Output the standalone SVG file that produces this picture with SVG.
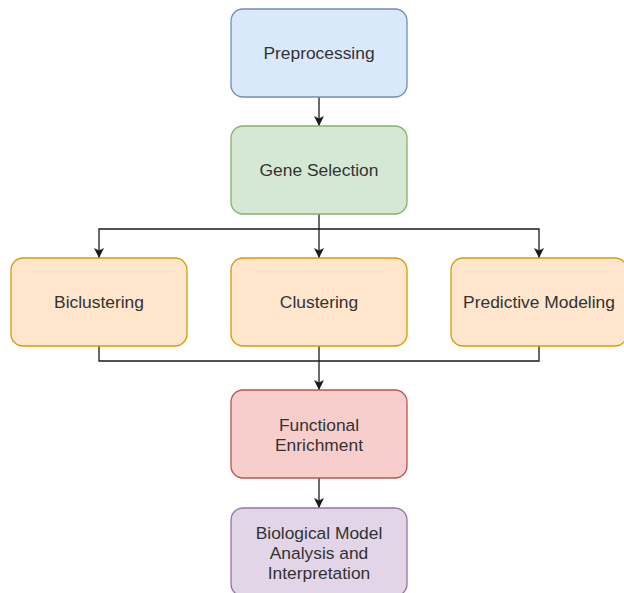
<svg xmlns="http://www.w3.org/2000/svg" width="624" height="593" viewBox="0 0 624 593">
<style>
.box{stroke-width:1.3}
.t{font-family:"Liberation Sans",Arial,Helvetica,sans-serif;font-size:17.4px;fill:#333;text-anchor:middle}
.c{fill:none;stroke:#1a1a1a;stroke-width:1.3}
</style>
<defs>
<marker id="arr" markerUnits="userSpaceOnUse" markerWidth="11" markerHeight="11" refX="10" refY="5.5" orient="auto" viewBox="0 0 11 11">
<path d="M0,0.5 L10,5.5 L0,10.5 L2.5,5.5 z" fill="#1a1a1a"/>
</marker>
</defs>
<rect width="624" height="593" fill="#fff"/>
<g id="connectors">
<path class="c" d="M319,97 V126" marker-end="url(#arr)"/>
<path class="c" d="M319,214 V229 H99 V258" marker-end="url(#arr)"/>
<path class="c" d="M319,229 V258" marker-end="url(#arr)"/>
<path class="c" d="M319,229 H539 V258" marker-end="url(#arr)"/>
<path class="c" d="M99,346 V361 H539 V346"/>
<path class="c" d="M319,346 V390" marker-end="url(#arr)"/>
<path class="c" d="M319,478 V508" marker-end="url(#arr)"/>
</g>
<g id="preprocessing">
<rect class="box" x="231" y="9" width="176" height="88" rx="12" fill="#dae8fc" stroke="#6c8ebf"/>
<text class="t" x="319" y="59">Preprocessing</text>
</g>
<g id="gene-selection">
<rect class="box" x="231" y="126" width="176" height="88" rx="12" fill="#d5e8d4" stroke="#82b366"/>
<text class="t" x="319" y="176">Gene Selection</text>
</g>
<g id="biclustering">
<rect class="box" x="11" y="258" width="176" height="88" rx="12" fill="#ffe6cc" stroke="#d79b00"/>
<text class="t" x="99" y="308">Biclustering</text>
</g>
<g id="clustering">
<rect class="box" x="231" y="258" width="176" height="88" rx="12" fill="#ffe6cc" stroke="#d79b00"/>
<text class="t" x="319" y="308">Clustering</text>
</g>
<g id="predictive-modeling">
<rect class="box" x="451" y="258" width="176" height="88" rx="12" fill="#ffe6cc" stroke="#d79b00"/>
<text class="t" x="539" y="308">Predictive Modeling</text>
</g>
<g id="functional-enrichment">
<rect class="box" x="231" y="390" width="176" height="88" rx="12" fill="#f8cecc" stroke="#b85450"/>
<text class="t" x="319" y="431">Functional</text>
<text class="t" x="319" y="451">Enrichment</text>
</g>
<g id="biological-model">
<rect class="box" x="231" y="508" width="176" height="88" rx="12" fill="#e1d5e7" stroke="#9673a6"/>
<text class="t" x="319" y="538.5">Biological Model</text>
<text class="t" x="319" y="558.5">Analysis and</text>
<text class="t" x="319" y="578.5">Interpretation</text>
</g>
</svg>
